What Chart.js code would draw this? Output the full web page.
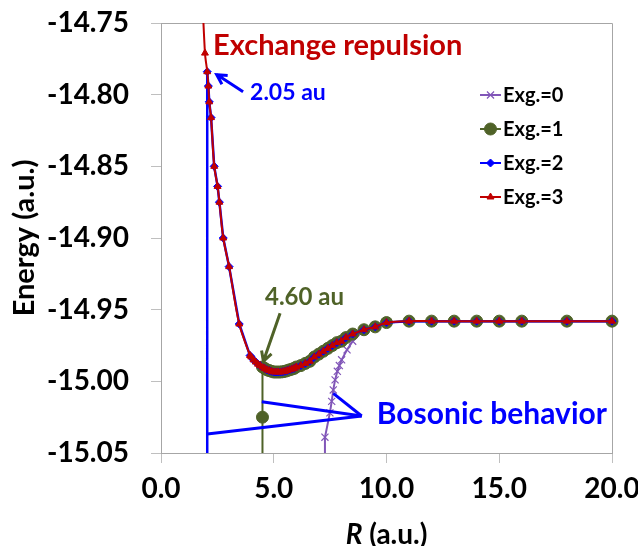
<!DOCTYPE html>
<html>
<head>
<meta charset="utf-8">
<script src="https://cdn.jsdelivr.net/npm/chart.js@4/dist/chart.umd.min.js"></script>
<style>
  html, body { margin: 0; padding: 0; background: #fff; }
  #wrap { width: 638px; height: 546px; }
</style>
</head>
<body>
<div id="wrap"><canvas id="pes"></canvas></div>
<script>
// Data ==========================================================
// steep repulsive wall
const steepR = [1.80, 1.95, 2.05, 2.10, 2.14, 2.22, 2.36, 2.51, 2.59, 2.76, 3.02, 3.47];
const steepE = [-14.720, -14.771, -14.784, -14.794, -14.805, -14.816, -14.850, -14.864, -14.875, -14.900, -14.920, -14.960];

// well and asymptote, shared by all four curves
const wellR = [3.95, 4.0, 4.1, 4.2, 4.3, 4.4, 4.5, 4.6, 4.7, 4.8, 4.9, 5.0, 5.1, 5.2, 5.3, 5.4, 5.5, 5.6, 5.7, 5.8, 5.9,
  6.0, 6.2, 6.4, 6.6, 6.8, 7.0, 7.2, 7.4, 7.6, 7.8, 8.0, 8.2, 8.5, 9.0, 9.5, 10, 11, 12, 13, 14, 15, 16, 18, 20];
const wellE = [-14.982, -14.983, -14.985, -14.9865, -14.988, -14.989, -14.990, -14.991, -14.992, -14.9925, -14.993,
  -14.9935, -14.9935, -14.9935, -14.9935, -14.9933, -14.993, -14.9925, -14.992, -14.9915, -14.991,
  -14.990, -14.989, -14.9875, -14.986, -14.983, -14.981, -14.979, -14.977, -14.975, -14.973, -14.972, -14.9695,
  -14.967, -14.964, -14.962, -14.959, -14.958, -14.958, -14.958, -14.958, -14.958, -14.958, -14.958, -14.958];

// bosonic drops
const exg1DropR = [4.5, 4.5];
const exg1DropE = [-15.20, -15.025];
const exg2DropR = [2.05];
const exg2DropE = [-15.20];
const exg0R = [7.25, 7.27, 7.49, 7.57, 7.64, 7.72, 7.82, 7.91, 8.01, 8.25, 8.5];
const exg0E = [-15.080, -15.039, -15.022, -15.014, -15.006, -14.999, -14.993, -14.989, -14.985, -14.978, -14.972];

const seriesLabels = ["Exg.=0", "Exg.=1", "Exg.=2", "Exg.=3"];
const yTicks = [-15.05, -15.00, -14.95, -14.90, -14.85, -14.80, -14.75];
const xTicks = [0, 5, 10, 15, 20];

function pts(rs, es) {
  return rs.map((r, i) => ({ x: r, y: es[i] }));
}
function wellFrom(rMin) {
  return pts(wellR, wellE).filter((p) => p.x >= rMin);
}

const FONT = "Lato, 'Open Sans', sans-serif";
const PURPLE = "#8156B8";
const OLIVE = "#4F6228";
const BLUE = "#0000FF";
const RED = "#C00000";
const CLIP = { left: 0, top: 0, right: 8, bottom: 0 };

const datasets = [
  {
    label: seriesLabels[0],
    data: pts(exg0R, exg0E).concat(wellFrom(9.0)),
    borderColor: PURPLE, backgroundColor: PURPLE, borderWidth: 2,
    pointStyle: "crossRot", pointRadius: 5, pointBorderWidth: 1.2,
    tension: 0, order: 4, clip: CLIP,
  },
  {
    label: seriesLabels[1],
    data: pts(exg1DropR, exg1DropE).concat(wellFrom(4.5)),
    borderColor: OLIVE, backgroundColor: OLIVE, borderWidth: 2,
    pointStyle: "circle", pointRadius: 6, pointBorderWidth: 1,
    tension: 0, order: 3, clip: CLIP,
  },
  {
    label: seriesLabels[2],
    data: pts(exg2DropR, exg2DropE).concat(pts(steepR, steepE).filter((p) => p.x >= 2.05), pts(wellR, wellE)),
    borderColor: BLUE, backgroundColor: BLUE, borderWidth: 2.5,
    pointStyle: "rectRot", pointRadius: 4, pointBorderWidth: 1,
    tension: 0, order: 2, clip: CLIP,
  },
  {
    label: seriesLabels[3],
    data: pts(steepR, steepE).concat(pts(wellR, wellE)),
    borderColor: RED, backgroundColor: RED, borderWidth: 2,
    pointStyle: "triangle", pointRadius: 4, pointBorderWidth: 1,
    tension: 0.3, order: 1, clip: CLIP,
  },
];

// Annotations (data coordinates) ====================================
const notes = [
  { text: "Exchange repulsion", x: 2.31, y: -14.7723, color: RED, size: 29 },
  { text: "2.05 au", x: 3.95, y: -14.8037, color: BLUE, size: 23 },
  { text: "4.60 au", x: 4.61, y: -14.9467, color: OLIVE, size: 24 },
  { text: "Bosonic behavior", x: 9.57, y: -15.0298, color: BLUE, size: 30 },
];
const arrows = [
  { from: [3.64, -14.798], to: [2.47, -14.786], color: BLUE },
  { from: [5.28, -14.9525], to: [4.54, -14.986], color: OLIVE },
];
const callout = { vertex: [8.9, -15.0242], targets: [[7.64, -15.0084], [4.47, -15.0142], [2.05, -15.0368]] };

const extras = {
  id: "extras",
  beforeDatasetsDraw(chart) {
    const { ctx, chartArea: { left, right, top, bottom } } = chart;
    ctx.save();
    ctx.strokeStyle = "#A6A6A6";
    ctx.lineWidth = 1;
    ctx.beginPath();
    ctx.moveTo(left, top + 0.5);
    ctx.lineTo(right + 0.5, top + 0.5);
    ctx.lineTo(right + 0.5, bottom);
    ctx.stroke();
    ctx.restore();
  },
  afterDraw(chart) {
    const { ctx, chartArea, scales: { x, y } } = chart;
    const px = (p) => [x.getPixelForValue(p[0]), y.getPixelForValue(p[1])];
    ctx.save();

    // callout lines
    ctx.strokeStyle = BLUE;
    ctx.lineWidth = 3;
    const v = px(callout.vertex);
    callout.targets.forEach((t) => {
      const q = px(t);
      ctx.beginPath();
      ctx.moveTo(v[0], v[1]);
      ctx.lineTo(q[0], q[1]);
      ctx.stroke();
    });

    // arrows
    arrows.forEach((a) => {
      const f = px(a.from), t = px(a.to);
      const ang = Math.atan2(t[1] - f[1], t[0] - f[0]);
      ctx.strokeStyle = a.color;
      ctx.lineWidth = 3;
      ctx.beginPath();
      ctx.moveTo(f[0], f[1]);
      ctx.lineTo(t[0], t[1]);
      ctx.moveTo(t[0] - 11 * Math.cos(ang - 0.5), t[1] - 11 * Math.sin(ang - 0.5));
      ctx.lineTo(t[0], t[1]);
      ctx.lineTo(t[0] - 11 * Math.cos(ang + 0.5), t[1] - 11 * Math.sin(ang + 0.5));
      ctx.stroke();
    });

    // text notes
    ctx.textBaseline = "alphabetic";
    ctx.textAlign = "left";
    notes.forEach((n) => {
      const p = px([n.x, n.y]);
      ctx.font = `bold ${n.size}px ${FONT}`;
      ctx.fillStyle = n.color;
      ctx.fillText(n.text, p[0], p[1]);
    });

    // legend
    const lx = 480, ly = 95, step = 34;
    chart.data.datasets.forEach((ds, i) => {
      const yy = ly + i * step;
      ctx.strokeStyle = ds.borderColor;
      ctx.lineWidth = 2;
      ctx.beginPath();
      ctx.moveTo(lx, yy);
      ctx.lineTo(lx + 21, yy);
      ctx.stroke();
      ctx.fillStyle = ds.backgroundColor;
      ctx.lineWidth = ds.pointBorderWidth;
      Chart.helpers.drawPoint(ctx, { pointStyle: ds.pointStyle, radius: ds.pointRadius, borderWidth: ds.pointBorderWidth, rotation: 0 }, lx + 10.5, yy);
      ctx.fillStyle = "#000";
      ctx.font = `bold 20px ${FONT}`;
      ctx.textBaseline = "middle";
      ctx.fillText(ds.label, lx + 23, yy + 1);
    });

    // axis titles
    ctx.fillStyle = "#000";
    ctx.textBaseline = "alphabetic";
    ctx.textAlign = "center";
    ctx.save();
    ctx.translate(34, (chartArea.top + chartArea.bottom) / 2);
    ctx.rotate(-Math.PI / 2);
    ctx.font = `bold 29px ${FONT}`;
    ctx.fillText("Energy (a.u.)", 0, 0);
    ctx.restore();

    const cx = (chartArea.left + chartArea.right) / 2;
    ctx.font = `italic bold 28px ${FONT}`;
    const rW = ctx.measureText("R").width;
    ctx.font = `bold 28px ${FONT}`;
    const restW = ctx.measureText(" (a.u.)").width;
    const x0 = cx - (rW + restW) / 2;
    ctx.textAlign = "left";
    ctx.font = `italic bold 28px ${FONT}`;
    ctx.fillText("R", x0, 544);
    ctx.font = `bold 28px ${FONT}`;
    ctx.fillText(" (a.u.)", x0 + rW, 544);
    ctx.restore();
  },
};

// Chart =============================================================
new Chart(document.getElementById("pes"), {
  type: "scatter",
  data: { datasets: datasets },
  options: {
    responsive: true,
    maintainAspectRatio: false,
    animation: false,
    showLine: true,
    layout: { padding: { top: 23, right: 26, left: 0, bottom: 0 } },
    plugins: { legend: { display: false }, tooltip: { enabled: false } },
    scales: {
      x: {
        type: "linear", min: 0, max: 20,
        afterFit(scale) {
          scale.height = 93;
          scale.paddingLeft = 0;
          scale.paddingRight = 0;
        },
        afterBuildTicks(scale) { scale.ticks = xTicks.map((v) => ({ value: v })); },
        ticks: {
          callback: (v) => Number(v).toFixed(1),
          font: { family: FONT, size: 28, weight: "bold" }, color: "#000", padding: 9,
          maxRotation: 0,
        },
        grid: { drawOnChartArea: false, tickLength: 10, color: "#BFBFBF" },
        border: { color: "#A6A6A6" },
      },
      y: {
        type: "linear", min: -15.05, max: -14.75,
        afterFit(scale) {
          scale.width = 161;
          scale.paddingTop = 0;
          scale.paddingBottom = 0;
        },
        afterBuildTicks(scale) { scale.ticks = yTicks.map((v) => ({ value: v })); },
        ticks: {
          callback: (v) => Number(v).toFixed(2),
          font: { family: FONT, size: 28, weight: "bold" }, color: "#000", padding: 22,
        },
        grid: { drawOnChartArea: false, tickLength: 10, color: "#BFBFBF" },
        border: { color: "#A6A6A6" },
      },
    },
  },
  plugins: [extras],
});
</script>
</body>
</html>
